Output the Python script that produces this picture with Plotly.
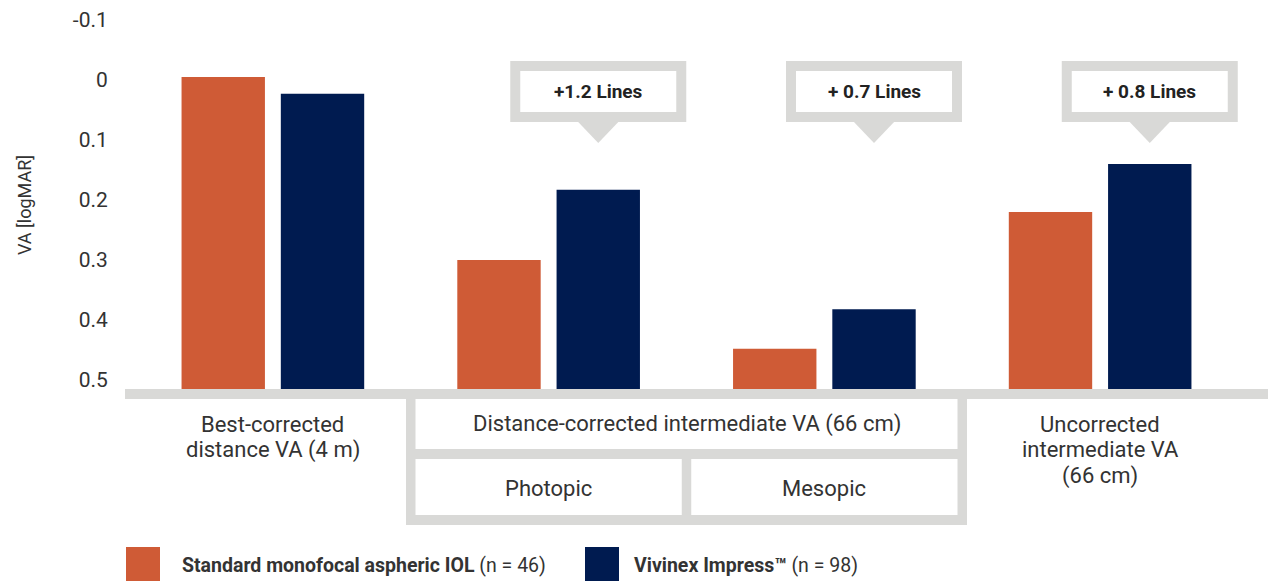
import plotly.graph_objects as go

# ---------------- data ----------------
categories = ["Best-corrected distance VA", "DCIVA Photopic", "DCIVA Mesopic", "UCIVA"]
standard_values = [-0.005, 0.30, 0.448, 0.22]
vivinex_values = [0.023, 0.183, 0.382, 0.14]
callout_texts = ["+1.2 Lines", "+ 0.7 Lines", "+ 0.8 Lines"]
callout_groups = [1, 2, 3]
tick_vals = [-0.1, 0, 0.1, 0.2, 0.3, 0.4, 0.5]
tick_text = ["-0.1", "0", "0.1", "0.2", "0.3", "0.4", "0.5"]
series_names = ["Standard monofocal aspheric IOL", "Vivinex Impress™"]
series_n = ["(n = 46)", "(n = 98)"]
label_best = ["Best-corrected", "distance VA (4 m)"]
label_dc = "Distance-corrected intermediate VA (66 cm)"
label_sub = ["Photopic", "Mesopic"]
label_unc = ["Uncorrected", "intermediate VA", "(66 cm)"]
BASELINE = 0.515

ORANGE = "#CF5B36"
NAVY = "#001B50"
GRAY = "#D9D9D7"
TXT = "#333333"
FONT = "Roboto"

# ---------------- layout geometry ----------------
W, H = 1268, 582
ML, MR, MT, MB = 135, 30, 2, 193
PW = W - ML - MR
PH = H - MT - MB
NCAT = len(categories)
BARGAP, BARGROUPGAP = 0.28, 0.16


def px(X):
    return (X - ML) / PW


def py(Y):
    return (MT + PH - Y) / PH


def cx(idx, dx=0.0):
    return (idx + 0.5) / NCAT + dx / PW


slot_px = PW / NCAT * (1 - BARGAP) / 2
navy_off = slot_px / 2

fig = go.Figure()
fig.add_trace(go.Bar(
    x=categories, y=[v - BASELINE for v in standard_values], base=BASELINE,
    marker=dict(color=ORANGE, line=dict(width=0)), name=series_names[0], showlegend=False))
fig.add_trace(go.Bar(
    x=categories, y=[v - BASELINE for v in vivinex_values], base=BASELINE,
    marker=dict(color=NAVY, line=dict(width=0)), name=series_names[1], showlegend=False))

shapes = []
annotations = []


def rect(x0, y0, x1, y1, color=GRAY):
    shapes.append(dict(type="rect", xref="paper", yref="paper", x0=x0, x1=x1, y0=y0, y1=y1,
                       fillcolor=color, line=dict(width=0), layer="above"))


def text(x, Y, s, size, color=TXT, anchor="center"):
    annotations.append(dict(xref="paper", yref="paper", x=x, y=py(Y), text=s, showarrow=False,
                            xanchor=anchor, yanchor="middle",
                            font=dict(family=FONT, size=size, color=color)))


# axis band
rect(px(125), py(399), px(W + 5), py(389))
# distance-corrected table
b1, b2, b3 = cx(0.5), cx(1.5), cx(2.5)
hw = 4.75 / PW
rect(b1 - hw, py(525), b1 + hw, py(389))
rect(b3 - hw, py(525), b3 + hw, py(389))
rect(b2 - hw, py(525), b2 + hw, py(449))
rect(b1 - hw, py(459), b3 + hw, py(449))
rect(b1 - hw, py(525), b3 + hw, py(515))

# callouts
for txt, g in zip(callout_texts, callout_groups):
    c = cx(g, navy_off)
    rect(cx(g, navy_off - 88), py(122), cx(g, navy_off + 88), py(61))
    rect(cx(g, navy_off - 78), py(112), cx(g, navy_off + 78), py(71), color="white")
    path = "M %f,%f L %f,%f L %f,%f Z" % (
        cx(g, navy_off - 21), py(121), cx(g, navy_off + 21), py(121), c, py(143))
    shapes.append(dict(type="path", xref="paper", yref="paper", path=path,
                       fillcolor=GRAY, line=dict(width=0), layer="above"))
    text(c, 91, "<b>%s</b>" % txt, 19, color="#222222")

# category labels
LS = 22
for i, s in enumerate(label_best):
    text(cx(0), 424 + 26 * i, s, LS)
text(cx(1.5), 424, label_dc, LS)
text(cx(1), 489, label_sub[0], LS)
text(cx(2), 489, label_sub[1], LS)
for i, s in enumerate(label_unc):
    text(cx(3), 424 + 26 * i, s, LS)

annotations.append(dict(xref="paper", yref="paper", x=px(24), y=py(205), text="VA [logMAR]",
                        textangle=-90, showarrow=False, xanchor="center", yanchor="middle",
                        font=dict(family=FONT, size=18, color=TXT)))

# legend (manual)
leg_x = [126, 585]
leg_text_x = [180, 632]
for i, (nm, n, col) in enumerate(zip(series_names, series_n, [ORANGE, NAVY])):
    rect(px(leg_x[i]), py(581), px(leg_x[i] + 34), py(547), color=col)
    text(px(leg_text_x[i]), 565, "<b>%s</b> %s" % (nm, n), 19.5, anchor="left")

fig.update_layout(
    width=W, height=H,
    margin=dict(l=ML, r=MR, t=MT, b=MB),
    paper_bgcolor="white", plot_bgcolor="white",
    barmode="group", bargap=BARGAP, bargroupgap=BARGROUPGAP,
    shapes=shapes, annotations=annotations,
    showlegend=False,
    xaxis=dict(showticklabels=False, showgrid=False, zeroline=False, showline=False,
               range=[-0.5, NCAT - 0.5], fixedrange=True),
    yaxis=dict(range=[BASELINE, -0.13], tickvals=tick_vals, ticktext=tick_text,
               showgrid=False, zeroline=False, showline=False,
               ticks="outside", ticklen=22, tickcolor="rgba(0,0,0,0)",
               tickfont=dict(family=FONT, size=21, color=TXT), fixedrange=True),
)

fig.write_html("out.html", config={"displayModeBar": False},
               post_script="document.body.style.margin='0';")
